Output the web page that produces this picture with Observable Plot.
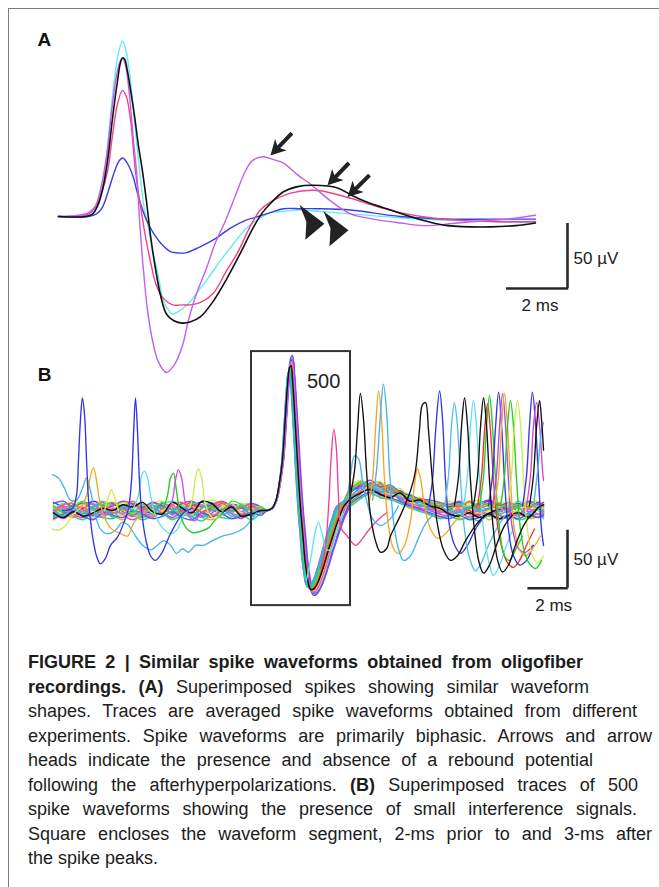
<!DOCTYPE html>
<html><head><meta charset="utf-8">
<script src="https://cdn.jsdelivr.net/npm/d3@7"></script>
<script src="https://cdn.jsdelivr.net/npm/@observablehq/plot@0.6"></script>
<style>
html,body{margin:0;padding:0;background:#fff;}
#fig{position:relative;width:659px;height:887px;overflow:hidden;font-family:"Liberation Sans",Arial,Helvetica,sans-serif;}
#frame{position:absolute;left:8px;top:8px;width:700px;height:900px;border-left:1.5px solid #7c7c7c;border-top:1.5px solid #7c7c7c;}
.panel{position:absolute;left:0;top:0;}
.cl{position:absolute;white-space:nowrap;font-size:18px;line-height:24px;color:#1c1c1c;}
</style></head><body>
<div id="fig"><div id="frame"></div><div id="panelA" class="panel"></div><div id="panelB" class="panel"></div><div id="caption"></div></div>
<script>
// ---------------- Panel A: averaged spike waveforms (t in ms, v in µV) ----------------
const cyanA = [[-2.10,0],[-1.21,0],[-0.98,2],[-0.82,8],[-0.66,24],[-0.52,47],[-0.39,78],[-0.26,106],[-0.13,126],[0,135],[0.10,129],[0.20,116],[0.33,89],[0.46,58],[0.59,29],[0.72,5],[0.82,-5],[0.98,-26],[1.15,-43],[1.34,-65],[1.51,-72],[1.64,-75],[1.84,-73],[2.16,-67],[2.46,-58],[2.82,-47],[3.21,-34],[3.64,-21],[4.10,-8],[4.52,-1],[4.85,3],[5.28,4],[5.84,5],[6.39,4],[7.48,2],[9.11,-1],[10.75,-3],[12.07,-4],[13.54,-5]];
const blueA = [[-2.10,0],[-1.11,0],[-0.85,2],[-0.66,7],[-0.46,20],[-0.30,32],[-0.13,42],[0,45],[0.13,42],[0.33,32],[0.49,18],[0.59,10],[0.79,-3],[1.02,-13],[1.31,-22],[1.57,-27],[1.80,-28],[2.07,-28],[2.39,-25],[2.66,-22],[3.05,-17],[3.54,-9],[4.03,-3],[4.30,-1],[4.85,3],[5.28,6],[5.84,6],[6.39,6],[7.48,5],[9.11,0],[10.75,-2],[12.07,-2],[13.54,-2]];
const pinkA = [[-2.10,0],[-1.44,0],[-1.11,2],[-0.89,7],[-0.69,18],[-0.49,35],[-0.33,62],[-0.16,87],[0,97],[0.13,92],[0.26,75],[0.43,34],[0.59,8],[0.75,-15],[0.92,-35],[1.11,-53],[1.34,-63],[1.64,-68],[1.97,-68],[2.23,-68],[2.56,-66],[2.98,-59],[3.38,-43],[3.77,-28],[4.20,-7],[4.52,5],[4.85,11],[5.51,18],[6.39,20],[7.48,14],[8.30,8],[9.11,3],[10.10,-1],[11.08,-3],[12.39,-4],[13.54,-4]];
const violetA = [[-2.10,0],[-1.44,1],[-1.11,3],[-0.89,8],[-0.69,24],[-0.52,47],[-0.36,80],[-0.20,108],[-0.07,120],[0,122],[0.10,116],[0.23,93],[0.36,58],[0.46,35],[0.56,-3],[0.69,-42],[0.82,-72],[0.98,-95],[1.18,-112],[1.44,-120],[1.70,-114],[1.97,-99],[2.16,-80],[2.43,-59],[2.72,-42],[3.05,-20],[3.38,-3],[3.70,16],[4.03,35],[4.26,43],[4.62,46],[4.92,44],[5.28,41],[5.74,32],[6.16,25],[6.82,12],[7.48,2],[8.23,-2],[9.11,-5],[9.87,-7],[10.98,-5],[12.07,-3],[12.62,-2],[13.54,1]];
const blackA = [[-2.10,0],[-1.21,0],[-0.98,2],[-0.82,8],[-0.66,20],[-0.49,43],[-0.33,75],[-0.16,105],[-0.07,118],[0,122],[0.07,121],[0.16,112],[0.26,98],[0.39,78],[0.52,55],[0.66,34],[0.79,11],[0.92,-15],[1.08,-40],[1.25,-61],[1.44,-75],[1.67,-80],[1.97,-82],[2.23,-81],[2.56,-77],[2.98,-65],[3.44,-47],[3.87,-28],[4.30,-8],[4.59,3],[4.85,10],[5.28,19],[5.74,23],[6.26,24],[7.05,22],[7.54,16],[8.03,11],[8.79,5],[9.87,-3],[10.66,-7],[12.07,-8],[12.89,-7],[13.54,-5]];
const tracesA = [
  {color:"#62eef0", pts:cyanA},
  {color:"#3c3ce6", pts:blueA},
  {color:"#f0408c", pts:pinkA},
  {color:"#c45cf2", pts:violetA},
  {color:"#111111", pts:blackA}
];
// arrows (presence of rebound): tip position and pointing angle (deg, screen)
const arrowsA = [{t:4.85, v:47, angle:134},{t:6.72, v:24, angle:134},{t:7.38, v:15, angle:135}];
// arrow heads (absence of rebound)
const headsA = [{t:6.16, v:-4},{t:6.95, v:-9}];
const scaleBarA = {t:14.59, v:-55.4, dt:2, dv:50};
const labelsA = [{t:-2.56, v:136, s:"A"}];

// ---------------- Panel B: 500 superimposed traces ----------------
const tPreB = [-12,-11.5,-11,-10.5,-10,-9.5,-9,-8.5,-8,-7.5,-7,-6.5,-6,-5.5,-5,-4.5,-4,-3.5,-3,-2.5,-2,-1.5];
const tPostB = [3,3.5,4,4.5,5,5.5,6,6.5,7,7.5,8,8.5,9,9.5,10,10.5,11,11.5,12,12.5,12.75];
const spikeTemplateB = [[-1.2,0],[-0.94,2],[-0.74,9],[-0.59,22],[-0.43,43],[-0.28,82],[-0.18,108],[-0.08,124],[0,126],[0.07,114],[0.17,86],[0.27,56],[0.37,26],[0.47,0],[0.58,-22],[0.68,-43],[0.78,-56],[0.88,-66],[0.98,-69],[1.13,-68],[1.33,-62],[1.59,-49],[1.84,-34],[2.09,-20],[2.34,-7],[2.60,4]];
const bandColors = ["#ff2a2a","#22cc22","#2f3fe8","#ffaa22","#33e0ee","#e040e0","#c8ee44","#ff3d96","#3fb0f5","#9a48f0","#20d8a0","#f0e030","#ff6a2a","#5a5af5","#44dd44","#ff55cc","#22bbdd","#111111"];
const bandPre = [
 [ 3,-2, 5, 1,-4, 2, 6,-1,-5, 3, 0, 4,-3, 2, 7,-2,-6, 1, 3,-4, 2, 0],
 [-5, 1,-2, 6, 2,-3, 0, 5,-1,-6, 4, 1,-2, 6, 0,-4, 3, 5,-1, 2,-5, 1],
 [ 7, 3,-1, 2, 8, 4,-2, 1, 5, 2,-3, 6, 3, 0, 4, 7, 1,-2, 5, 3, 0, 2],
 [-8,-4,-6,-2,-7,-3,-5,-8,-2,-6,-4,-1,-7,-5,-3,-6,-8,-4,-2,-6,-3,-1],
 [ 1, 6, 2,-3, 4, 8, 3, 0, 6, 2,-1, 5, 8, 4, 1, 3, 7, 2,-2, 4, 6, 1],
 [-2,-7,-1, 3,-3,-6, 1,-4,-8,-3, 2,-2,-6,-1, 3,-5,-2, 4,-3,-7,-1, 0],
 [ 5, 0, 8, 4, 1, 6, 2, 7, 3,-1, 6, 8, 2, 5, 0, 4, 9, 5, 1, 6, 3, 2],
 [ 0, 4,-3,-6, 2,-1, 5, 3,-4, 1, 7, 2,-3, 0, 5,-2, 1, 6, 3,-1, 4, 0],
 [-4, 2, 4,-1,-5, 0,-3, 3, 1,-5,-2, 3,-4, 2,-1,-6, 0, 2,-5,-1, 1,-2],
 [ 6, 8, 3, 7, 5, 1, 4, 8, 6, 3, 7, 4, 1, 6, 8, 3, 5, 8, 4, 2, 6, 3],
 [-6,-1,-5,-8,-2,-6,-7,-2,-4,-8,-5,-3,-8,-4,-6,-9,-3,-6,-7,-4,-8,-2],
 [ 2,-3, 1, 5,-2, 3,-1,-4, 2, 6,-2, 0, 4,-3, 2, 1,-4, 3, 6,-2, 1, 3],
 [-1, 5, 6, 0, 3, 7,-2, 2, 8, 1, 3,-2, 5, 7, 2,-1, 4, 7, 0, 3, 5,-1],
 [-7,-3, 0,-5,-8,-2,-4,-6, 0,-3,-7,-5,-1,-6,-8,-2,-5,-3,-7,-5,-2,-4],
 [ 4,-1, 3, 8, 0, 4, 7, 1,-2, 5, 2, 7, 1,-2, 6, 4, 2,-1, 8, 5, 0, 3],
 [-3, 3,-5, 1, 6,-4, 2,-3, 4, 0,-6, 2, 5,-3,-1, 5,-4,-1, 2,-3, 3,-1],
 [ 1,-5, 2,-3, 3, 5,-6, 4, 0,-2, 5,-4, 0, 3,-5, 2, 6,-3, 0, 4,-4, 1],
 [-2,-6,-1,-5,-2, 2, 0, 5, 3, 7,-1,-3, 7, 2,-2, 8, 6,-1, 3,-5,-3, 0]
];
const bandPost = [
 [15,22,18,21,12,16, 8, 9, 1, 4,-2, 3, 0,-4, 2, 5,-1,-3, 4, 1,-2],
 [ 8,14,24,15,19, 9,12, 3, 6,-2, 2,-4, 4, 1,-3, 0, 5,-2,-5, 2, 0],
 [16,20,23,24,14,17,10, 8, 5, 6, 3, 7, 2, 5, 8, 1, 4, 6, 2, 7, 3],
 [ 5,11,14,12, 9, 7, 2, 0,-4,-6,-3,-7,-5,-2,-8,-4,-6,-3,-7,-5,-2],
 [18,24,19,22,20,15,14, 9, 8, 3, 6, 2, 7, 4, 1, 6, 3, 8, 2, 5, 6],
 [10,15,21,13,15,10, 5, 2, 0,-3,-5,-1,-6,-3, 1,-4,-7,-2,-4,-6,-3],
 [20,26,22,25,17,19,12,11, 6, 5, 8, 4, 6, 9, 3, 7, 5, 2, 6, 8, 4],
 [13,17,23,16,20,11,11, 4, 5, 0, 1, 5,-2, 3, 6,-1, 2, 4,-1, 3, 1],
 [ 9,19,17,19,13,14, 6, 7, 0, 2,-4, 0,-3, 2,-5,-1, 1,-4,-2, 0,-5],
 [17,21,26,20,22,16,13,10, 9, 7, 5, 8, 3, 6, 9, 4, 7, 3, 8, 5, 7],
 [ 4,10,15,11,10, 6, 3,-1,-3,-7,-5,-8,-6,-9,-4,-7,-5,-8,-6,-3,-7],
 [14,16,21,17,14,13, 7, 5, 4, 1,-1, 2, 4,-2, 0, 3,-3, 1, 5, 0, 2],
 [19,23,20,23,18,16,11,10, 7, 4, 5, 3, 8, 2, 5, 6, 1, 5, 3, 6, 4],
 [ 6,12,16,14,11, 8, 4, 1,-2,-5,-7,-4,-8,-6,-3,-8,-5,-7,-3,-6,-4],
 [16,25,21,19,21,14,12, 8, 6, 6, 2, 6, 1, 7, 4, 2, 6, 3, 7, 2, 5],
 [11,16,19,17,12,12, 6, 4, 2,-1,-2, 1,-3, 0,-4, 2,-2,-5, 1,-3, 0],
 [12,20,22,16,17,11,10, 5, 3, 2, 0,-2, 3,-1, 2,-3, 0, 2,-4, 1,-1],
 [10,15,18,14,11,15, 8, 9, 4, 2,-3,-5,-2,-6,-3,-7,-4,-2,-6, 3, 5]
];
const bandDt      = [0.02,-0.05,0.08,-0.02,0.04,-0.08,0.06,0.00,-0.04,0.10,-0.06,0.03,-0.01,0.07,-0.03,0.05,-0.07,0.00];
const bandGain    = [1.00,0.96,1.04,0.98,1.02,0.95,1.05,0.99,0.97,1.03,0.94,1.01,0.98,1.06,0.97,1.02,0.96,0.99];
const bandStretch = [1.02,0.95,1.08,0.98,1.05,0.92,1.07,1.00,0.96,1.10,0.94,1.04,0.99,1.09,0.97,1.05,0.93,1.03];

// outlier / interference segments (t ms, v µV)
const eventsB = [
 {c:"#45b4f0", p:[[-12.05,31],[-11.75,28],[-11.44,19],[-11.14,9],[-10.84,9],[-10.54,19],[-10.33,28],[-10.13,17],[-9.88,-4],[-9.63,-16],[-9.27,-20],[-8.87,-17],[-8.52,-10],[-8.21,-13],[-7.86,-22],[-7.50,-30],[-7.10,-34],[-6.75,-30],[-6.44,-26],[-6.09,-30],[-5.79,-37],[-5.48,-33],[-5.18,-36],[-4.83,-30],[-4.42,-30],[-3.97,-26],[-3.46,-22],[-2.96,-20],[-2.45,-16],[-2.05,-9],[-1.75,-2]]},
 {c:"#c8ee55", p:[[-12.05,-16],[-11.75,-17],[-11.39,-13],[-11.04,-4],[-10.64,2]]},
 {c:"#f5a623", p:[[-10.63,2],[-10.33,13],[-10.13,30],[-9.98,37],[-9.83,26],[-9.68,9],[-9.47,-4],[-9.12,-15],[-8.61,-20],[-8.26,-22],[-7.96,-11],[-7.61,-4],[-7.25,0]]},
 {c:"#e8e040", p:[[-9.42,0],[-9.22,12],[-9.07,18],[-8.92,12],[-8.72,0]]},
 {c:"#55e6f0", p:[[-7.96,2],[-7.71,13],[-7.55,30],[-7.40,34],[-7.25,28],[-7.10,13],[-6.85,-4],[-6.49,-15],[-6.09,-20],[-5.74,-16],[-5.43,-4],[-5.18,2]]},
 {c:"#22cc22", p:[[-6.44,2],[-6.24,13],[-6.09,28],[-5.94,32],[-5.79,17],[-5.63,0],[-5.38,-13],[-4.98,-19],[-4.58,-18],[-4.17,-15],[-3.77,-7],[-3.41,0]]},
 {c:"#d54ae8", p:[[-6.19,0],[-5.99,9],[-5.84,26],[-5.69,35],[-5.53,28],[-5.38,10],[-5.18,-4],[-4.88,-9],[-4.58,-3],[-4.27,0]]},
 {c:"#c8ee55", p:[[-5.18,0],[-4.98,10],[-4.83,28],[-4.68,36],[-4.52,28],[-4.37,9],[-4.17,-2],[-3.87,-7],[-3.56,-2]]},
 {c:"#3535e8", p:[[-11.54,0],[-11.04,2],[-10.84,13],[-10.74,43],[-10.64,78],[-10.54,97],[-10.43,82],[-10.33,43],[-10.23,9],[-10.03,-22],[-9.83,-39],[-9.63,-46],[-9.37,-41],[-9.12,-30],[-8.77,-23],[-8.41,-9],[-8.21,2],[-8.06,26],[-7.96,65],[-7.86,97],[-7.76,69],[-7.66,26],[-7.55,0],[-7.35,-24],[-7.10,-39],[-6.85,-43],[-6.54,-37],[-6.09,-20],[-5.43,-2],[-4.98,2]]},
 {c:"#5ae8f2", p:[[0.78,-60],[0.98,-43],[1.18,-22],[1.38,-10],[1.59,-22],[1.79,-34],[2.04,-33],[2.30,-17],[2.60,-2]]},
 {c:"#f0409a", p:[[1.50,-50],[1.72,-33],[1.90,5],[2.02,45],[2.16,70],[2.28,55],[2.40,10],[2.52,-15],[2.83,-22],[3.25,-30],[3.66,-23],[3.91,-17],[4.40,-8],[4.82,-2]]},
 {c:"#45b4f0", p:[[2.82,9],[3.00,30],[3.20,47],[3.40,45],[3.60,26],[3.81,9],[4.11,-7],[4.52,-13],[5.02,-7],[5.42,4]]},
 {c:"#f5a623", p:[[3.91,4],[4.11,26],[4.26,69],[4.42,103],[4.57,78],[4.72,26],[4.92,-13],[5.17,-33],[5.42,-37],[5.73,-30],[6.03,-9],[6.23,22],[6.38,36],[6.53,28],[6.74,4],[7.04,-16],[7.40,-24],[7.80,-20],[8.30,-9],[8.81,-2]]},
 {c:"#45b4f0", p:[[4.11,9],[4.31,34],[4.51,82],[4.66,109],[4.82,86],[4.97,34],[5.17,-9],[5.42,-33],[5.68,-43],[6.03,-39],[6.43,-24],[6.84,-10],[7.30,-2]]},
 {c:"#3535e8", p:[[6.94,4],[7.14,26],[7.30,69],[7.50,103],[7.65,78],[7.80,26],[8.00,-13],[8.26,-30],[8.56,-37],[8.91,-30],[9.31,-16],[9.82,-4]]},
 {c:"#50c0f0", p:[[7.75,4],[7.95,30],[8.10,73],[8.25,93],[8.40,73],[8.56,26],[8.76,-17],[9.01,-41],[9.31,-52],[9.61,-45],[9.97,-30],[10.37,-16],[10.82,-4]]},
 {c:"#5ae0f0", p:[[8.71,4],[8.91,30],[9.06,73],[9.21,95],[9.36,73],[9.52,26],[9.72,-17],[9.97,-43],[10.22,-56],[10.53,-47],[10.88,-30],[11.28,-13]]},
 {c:"#f03030", p:[[9.42,4],[9.62,30],[9.77,69],[9.92,92],[10.07,69],[10.22,26],[10.43,-13],[10.68,-34],[10.93,-45],[11.23,-49],[11.54,-43],[11.89,-30],[12.29,-16]]},
 {c:"#22cc22", p:[[9.52,4],[9.72,30],[9.87,73],[10.02,99],[10.17,73],[10.33,26],[10.53,-17],[10.78,-39],[11.03,-43],[11.33,-34],[11.69,-22]]},
 {c:"#3535e8", p:[[9.97,4],[10.17,30],[10.33,73],[10.48,102],[10.63,73],[10.78,26],[10.98,-17],[11.23,-39],[11.54,-47],[11.89,-43],[12.24,-30]]},
 {c:"#a04ef0", p:[[10.17,4],[10.37,30],[10.53,73],[10.68,101],[10.83,73],[10.98,26],[11.18,-16],[11.49,-33],[11.84,-36],[12.19,-30]]},
 {c:"#f5a623", p:[[10.27,4],[10.48,30],[10.63,73],[10.78,101],[10.93,73],[11.08,26],[11.28,-17],[11.54,-34],[11.84,-39],[12.19,-33],[12.60,-22]]},
 {c:"#22cc22", p:[[10.58,4],[10.78,30],[10.93,73],[11.08,95],[11.23,73],[11.39,26],[11.59,-17],[11.84,-39],[12.09,-47],[12.35,-50],[12.65,-43]]},
 {c:"#c8ee55", p:[[10.93,4],[11.13,30],[11.28,73],[11.44,95],[11.59,73],[11.74,26],[11.94,-17],[12.19,-39],[12.45,-45],[12.75,-39]]},
 {c:"#3535e8", p:[[11.69,4],[11.89,30],[12.04,73],[12.19,102],[12.35,73],[12.50,26],[12.65,-17],[12.75,-30]]},
 {c:"#e040c8", p:[[11.89,4],[12.09,30],[12.24,73],[12.40,93],[12.55,73],[12.70,34],[12.75,26]]},
 {c:"#45b4f0", p:[[12.24,4],[12.45,34],[12.65,69],[12.75,76]]},
 {c:"#111111", p:[[2.99,13],[3.20,34],[3.35,69],[3.50,101],[3.66,78],[3.81,34],[4.01,-4],[4.26,-26],[4.52,-36],[4.82,-33],[5.02,-22],[5.53,-4],[6.03,17],[6.28,34],[6.48,69],[6.63,91],[6.79,93],[6.94,69],[7.14,26],[7.40,-13],[7.70,-34],[8.05,-43],[8.40,-39],[8.81,-26],[9.31,-13],[9.82,-4],[10.30,0]]},
 {c:"#111111", p:[[8.25,4],[8.46,30],[8.61,73],[8.76,97],[8.91,73],[9.06,26],[9.26,-17],[9.47,-43],[9.72,-54],[10.02,-47],[10.37,-30],[10.78,-13],[11.18,-4]]},
 {c:"#111111", p:[[9.21,4],[9.42,30],[9.57,73],[9.72,97],[9.87,73],[10.02,26],[10.22,-17],[10.43,-43],[10.68,-53],[10.98,-47],[11.33,-30],[11.74,-13],[12.09,-4]]},
 {c:"#111111", p:[[12.04,4],[12.24,30],[12.40,73],[12.55,95],[12.65,78],[12.75,52]]}
];
const boxB = {t1:-2, t2:3, v1:-82, v2:137};
const boxLabelB = [{t:1.64, v:111, s:"500"}];
const scaleBarB = {t:13.96, v:-67, dt:2, dv:50};
const labelsB = [{t:-12.45, v:117, s:"B"}];

// ---------------- Caption ----------------
const captionLines = [
 {segs:[["b","FIGURE 2 | Similar spike waveforms obtained from oligofiber"]], right:583},
 {segs:[["b","recordings. (A)"],["n"," Superimposed spikes showing similar waveform"]], right:589},
 {segs:[["n","shapes. Traces are averaged spike waveforms obtained from different"]], right:637},
 {segs:[["n","experiments. Spike waveforms are primarily biphasic. Arrows and arrow"]], right:652},
 {segs:[["n","heads indicate the presence and absence of a rebound potential"]], right:593},
 {segs:[["n","following the afterhyperpolarizations. "],["b","(B)"],["n"," Superimposed traces of 500"]], right:638},
 {segs:[["n","spike waveforms showing the presence of small interference signals."]], right:637},
 {segs:[["n","Square encloses the waveform segment, 2-ms prior to and 3-ms after"]], right:652},
 {segs:[["n","the spike peaks."]], right:null}
];

// ---------------- helpers ----------------
const FONT = "Liberation Sans, Arial, Helvetica, sans-serif";
function lineOf(pts, color, w) {
  return Plot.line(pts, {x: d => d[0], y: d => d[1], stroke: color, strokeWidth: w, curve: "catmull-rom", strokeLinejoin: "round"});
}
function polySymbol(points) {
  return {draw(ctx, size) {
    const k = Math.sqrt(size / Math.PI) / 5;
    ctx.moveTo(points[0][0] * k, points[0][1] * k);
    for (let i = 1; i < points.length; i++) ctx.lineTo(points[i][0] * k, points[i][1] * k);
    ctx.closePath();
  }};
}
function rotatePts(points, deg) {
  const a = deg * Math.PI / 180, c = Math.cos(a), s = Math.sin(a);
  return points.map(([x, y]) => [x * c - y * s, x * s + y * c]);
}
const arrowShape = [[0,0],[-15,-8],[-12,-2],[-31,-2],[-31,2],[-12,2],[-15,8]];
const headShape = [[14,2],[-11,-17],[-4,0],[-5,18]];
function scaleBar(sb) {
  return [
    Plot.ruleX([sb.t], {y1: sb.v, y2: sb.v + sb.dv, stroke: "#2a2a2a", strokeWidth: 2.6}),
    Plot.ruleY([sb.v], {x1: sb.t - sb.dt, x2: sb.t + 0.04, stroke: "#2a2a2a", strokeWidth: 2.6})
  ];
}

// ---------------- Panel A plot ----------------
const marksA = [];
tracesA.forEach(tr => marksA.push(lineOf(tr.pts, tr.color, tr.color === "#111111" ? 1.6 : 1.4)));
arrowsA.forEach(a => marksA.push(Plot.dot([a], {x: "t", y: "v", r: 5, symbol: polySymbol(rotatePts(arrowShape, a.angle)), fill: "#232323", stroke: "none"})));
headsA.forEach(h => marksA.push(Plot.dot([h], {x: "t", y: "v", r: 5, symbol: polySymbol(headShape), fill: "#232323", stroke: "none"})));
marksA.push(...scaleBar(scaleBarA));
marksA.push(Plot.text([{t: scaleBarA.t + 0.2, v: scaleBarA.v + 23, s: "50 µV"}], {x: "t", y: "v", text: "s", textAnchor: "start", fontSize: 17, fill: "#222", fontFamily: FONT}));
marksA.push(Plot.text([{t: scaleBarA.t - 0.9, v: scaleBarA.v - 13, s: "2 ms"}], {x: "t", y: "v", text: "s", fontSize: 17, fill: "#222", fontFamily: FONT}));
marksA.push(Plot.text(labelsA, {x: "t", y: "v", text: "s", fontSize: 19, fontWeight: "bold", fill: "#111", fontFamily: FONT}));

const plotA = Plot.plot({
  width: 659, height: 400,
  style: {background: "transparent", overflow: "visible", fontFamily: FONT},
  x: {type: "linear", domain: [-4, 17.6], range: [0, 658.8], axis: null},
  y: {type: "linear", domain: [-130, 170], range: [385, -5], axis: null},
  marks: marksA
});
document.getElementById("panelA").appendChild(plotA);

// ---------------- Panel B plot ----------------
function bandTrace(i) {
  const pts = [];
  bandPre[i].forEach((v, j) => pts.push([tPreB[j], v]));
  spikeTemplateB.forEach(([t, v]) => pts.push([bandDt[i] + t * bandStretch[i], v * bandGain[i]]));
  bandPost[i].forEach((v, j) => pts.push([tPostB[j], v]));
  return pts.sort((a, b) => a[0] - b[0]);
}
const marksB = [];
bandPre.forEach((_, i) => marksB.push(lineOf(bandTrace(i), bandColors[i], bandColors[i] === "#111111" ? 1.5 : 1.5)));
eventsB.forEach(e => marksB.push(lineOf(e.p, e.c, 1.35)));
marksB.push(Plot.rect([boxB], {x1: "t1", x2: "t2", y1: "v1", y2: "v2", fill: "none", stroke: "#333", strokeWidth: 2}));
marksB.push(Plot.text(boxLabelB, {x: "t", y: "v", text: "s", fontSize: 20, fill: "#222", fontFamily: FONT}));
marksB.push(...scaleBar(scaleBarB));
marksB.push(Plot.text([{t: scaleBarB.t + 0.3, v: scaleBarB.v + 25, s: "50 µV"}], {x: "t", y: "v", text: "s", textAnchor: "start", fontSize: 17, fill: "#222", fontFamily: FONT}));
marksB.push(Plot.text([{t: scaleBarB.t - 0.7, v: scaleBarB.v - 15, s: "2 ms"}], {x: "t", y: "v", text: "s", fontSize: 17, fill: "#222", fontFamily: FONT}));
marksB.push(Plot.text(labelsB, {x: "t", y: "v", text: "s", fontSize: 19, fontWeight: "bold", fill: "#111", fontFamily: FONT}));

const plotB = Plot.plot({
  width: 659, height: 640,
  style: {background: "transparent", overflow: "visible", fontFamily: FONT},
  x: {type: "linear", domain: [-14, 18.5], range: [13.4, 656.9], axis: null},
  y: {type: "linear", domain: [-100, 140], range: [626, 347.6], axis: null},
  marks: marksB
});
document.getElementById("panelB").appendChild(plotB);

// ---------------- Caption ----------------
const capLeft = 28, capTop = 650, capPitch = 24.5;
const cap = document.getElementById("caption");
captionLines.forEach((ln, i) => {
  const div = document.createElement("div");
  div.className = "cl";
  div.style.left = capLeft + "px";
  div.style.top = (capTop + i * capPitch) + "px";
  ln.segs.forEach(([w, s]) => {
    const sp = document.createElement("span");
    sp.textContent = s;
    if (w === "b") sp.style.fontWeight = "bold";
    div.appendChild(sp);
  });
  cap.appendChild(div);
  if (ln.right) {
    const nat = div.getBoundingClientRect().width;
    const text = ln.segs.map(s => s[1]).join("");
    const nsp = (text.match(/ /g) || []).length;
    div.style.wordSpacing = ((ln.right - capLeft - nat) / nsp) + "px";
  }
});
</script>
</body></html>
